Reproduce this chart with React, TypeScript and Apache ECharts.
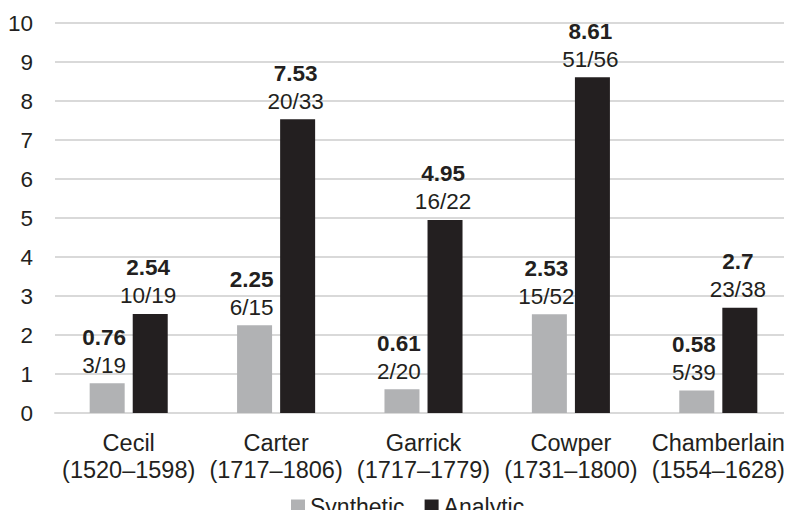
import React, { useEffect, useRef } from "react";
import * as echarts from "echarts";

const categories = ["Cecil\n(1520–1598)", "Carter\n(1717–1806)", "Garrick\n(1717–1779)", "Cowper\n(1731–1800)", "Chamberlain\n(1554–1628)"];
const syntheticValues = [0.76, 2.25, 0.61, 2.53, 0.58];
const analyticValues = [2.54, 7.53, 4.95, 8.61, 2.7];
const syntheticFractions = ["3/19", "6/15", "2/20", "15/52", "5/39"];
const analyticFractions = ["10/19", "20/33", "16/22", "51/56", "23/38"];
const yTicks = [0, 1, 2, 3, 4, 5, 6, 7, 8, 9, 10];

const FONT = "'Liberation Sans', Arial, sans-serif";
const TEXT = "#231f20";

export default function App() {
  const ref = useRef<HTMLDivElement>(null);
  useEffect(() => {
    if (!ref.current) return;
    const chart = echarts.init(ref.current, null, { renderer: "svg" });
    const mkLabel = (fractions: string[], offsetX: number) => ({
      show: true,
      position: "top",
      distance: 4,
      offset: [offsetX, 0],
      formatter: (p: any) => `{b|${p.value}}\n{n|${fractions[p.dataIndex]}}`,
      rich: {
        b: { fontFamily: FONT, fontSize: 22.5, fontWeight: "bold", color: TEXT, lineHeight: 28 },
        n: { fontFamily: FONT, fontSize: 22.5, color: TEXT, lineHeight: 28 },
      },
    });
    chart.setOption({
      animation: false,
      backgroundColor: "#ffffff",
      textStyle: { fontFamily: FONT, color: TEXT },
      grid: { left: 55, right: 0, top: 23, bottom: 105, containLabel: false },
      legend: {
        left: 286,
        top: 490,
        itemWidth: 14,
        itemHeight: 14,
        itemGap: 20,
        icon: "rect",
        textStyle: { fontFamily: FONT, fontSize: 23, color: TEXT },
        data: ["Synthetic", "Analytic"],
      },
      xAxis: {
        type: "category",
        data: categories,
        axisLine: { show: true, lineStyle: { color: "#d9d9d9", width: 2 } },
        axisTick: { show: false },
        axisLabel: {
          fontFamily: FONT,
          fontSize: 23.5,
          color: TEXT,
          lineHeight: 27,
          margin: 16,
          interval: 0,
        },
      },
      yAxis: {
        type: "value",
        min: yTicks[0],
        max: yTicks[yTicks.length - 1],
        interval: 1,
        axisLine: { show: false },
        axisTick: { show: false },
        splitLine: { lineStyle: { color: "#d9d9d9", width: 2 } },
        axisLabel: { fontFamily: FONT, fontSize: 22.5, color: TEXT, margin: 22 },
      },
      series: [
        {
          name: "Synthetic",
          type: "bar",
          data: syntheticValues,
          barWidth: 35,
          barGap: "23%",
          itemStyle: { color: "#b1b2b4" },
          label: mkLabel(syntheticFractions, -3),
        },
        {
          name: "Analytic",
          type: "bar",
          data: analyticValues,
          barWidth: 35,
          itemStyle: { color: "#231f20" },
          label: mkLabel(analyticFractions, -2),
        },
      ],
    });
    return () => chart.dispose();
  }, []);
  return <div ref={ref} style={{ width: 792, height: 518, margin: -8 }} />;
}
